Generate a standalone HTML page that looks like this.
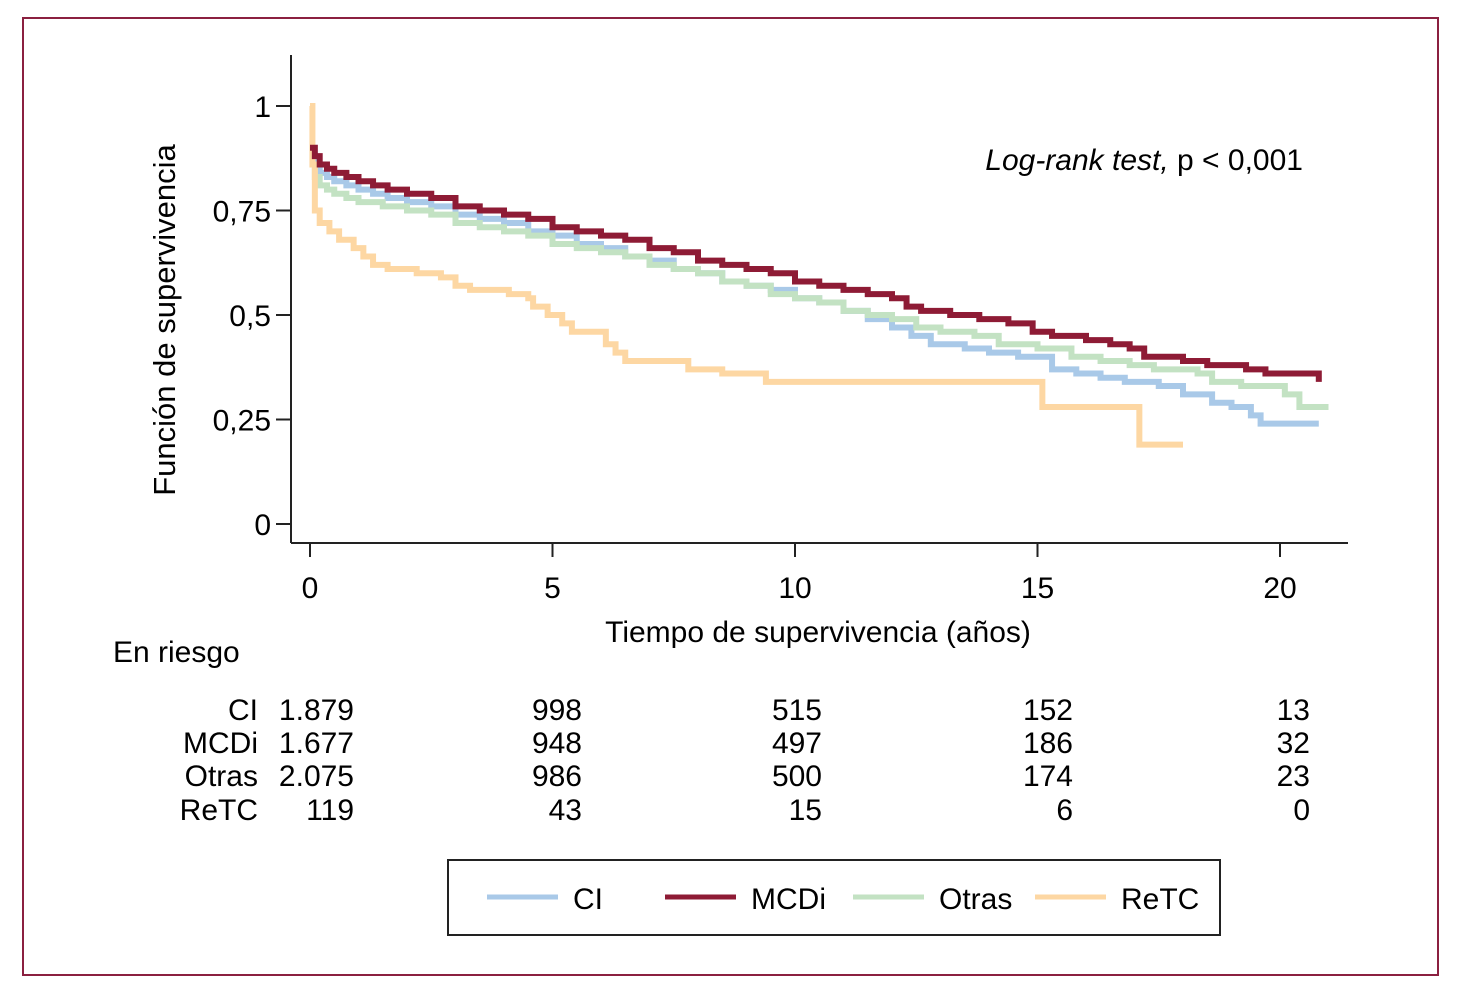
<!DOCTYPE html>
<html><head><meta charset="utf-8"><style>
body{margin:0;background:#fff}
svg{display:block;font-family:"Liberation Sans Narrow","Liberation Sans",sans-serif}
</style></head><body>
<svg id="c" width="1458" height="1000" viewBox="0 0 1458 1000">
<rect x="23" y="18" width="1415" height="957" fill="none" stroke="#8b2040" stroke-width="2"/>
<g id="axes"></g>
<g id="series"></g>
<text x="175" y="320" font-size="31" text-anchor="middle" transform="rotate(-90 175 320)">Función de supervivencia</text>
<text x="818" y="642" font-size="30" text-anchor="middle">Tiempo de supervivencia (años)</text>
<text x="1303" y="170" font-size="30" text-anchor="end"><tspan font-style="italic">Log-rank test,</tspan> p &lt; 0,001</text>
<text x="113" y="662" font-size="30">En riesgo</text>
<g id="risk"></g>
<rect x="448" y="860" width="772" height="75" fill="none" stroke="#222" stroke-width="2"/>
<g id="legend"></g>
</svg>
<script>
const yTicks=[0,0.25,0.5,0.75,1];
const yTickLabels=["0","0,25","0,5","0,75","1"];
const xTicks=[0,5,10,15,20];
const seriesNames=["CI","MCDi","Otras","ReTC"];
const seriesColors=["#a9c9e8","#8e1b35","#c3e2c3","#fdd7a3"];
const ciData=[[0,0.88],[0.1,0.86],[0.2,0.84],[0.35,0.83],[0.5,0.82],[0.75,0.81],[1,0.80],[1.3,0.79],[1.6,0.78],[2,0.77],[2.5,0.76],[3,0.74],[3.5,0.73],[4,0.72],[4.5,0.70],[5,0.69],[5.5,0.67],[6,0.66],[6.5,0.64],[7,0.63],[7.5,0.61],[8,0.60],[8.5,0.58],[9,0.57],[9.5,0.56],[10,0.54],[10.5,0.53],[11,0.51],[11.5,0.49],[12,0.47],[12.4,0.45],[12.8,0.43],[13.5,0.42],[14,0.41],[14.6,0.40],[15.3,0.37],[15.8,0.36],[16.3,0.35],[16.8,0.34],[17.5,0.33],[18,0.31],[18.6,0.29],[19,0.28],[19.4,0.26],[19.6,0.24],[20.8,0.24]];
const mcdiData=[[0,0.9],[0.1,0.88],[0.2,0.86],[0.35,0.85],[0.5,0.84],[0.75,0.83],[1,0.82],[1.3,0.81],[1.6,0.80],[2,0.79],[2.5,0.78],[3,0.76],[3.5,0.75],[4,0.74],[4.5,0.73],[5,0.71],[5.5,0.70],[6,0.69],[6.5,0.68],[7,0.66],[7.5,0.65],[8,0.63],[8.5,0.62],[9,0.61],[9.5,0.60],[10,0.58],[10.5,0.57],[11,0.56],[11.5,0.55],[12,0.54],[12.3,0.52],[12.6,0.51],[13.2,0.50],[13.8,0.49],[14.4,0.48],[14.9,0.46],[15.3,0.45],[16,0.44],[16.5,0.43],[16.9,0.42],[17.2,0.40],[18,0.39],[18.5,0.38],[19.3,0.37],[19.7,0.36],[20.8,0.36],[20.8,0.34]];
const otrasData=[[0,0.86],[0.1,0.83],[0.2,0.81],[0.35,0.80],[0.5,0.79],[0.75,0.78],[1,0.77],[1.5,0.76],[2,0.75],[2.5,0.74],[3,0.72],[3.5,0.71],[4,0.70],[4.5,0.69],[5,0.67],[5.5,0.66],[6,0.65],[6.5,0.64],[7,0.62],[7.5,0.61],[8,0.60],[8.5,0.58],[9,0.57],[9.5,0.55],[10,0.54],[10.5,0.53],[11,0.51],[11.5,0.50],[12,0.49],[12.5,0.47],[13,0.46],[13.7,0.45],[14.2,0.43],[15,0.42],[15.7,0.40],[16.3,0.39],[16.9,0.38],[17.4,0.37],[18.3,0.36],[18.6,0.34],[19.2,0.33],[20.1,0.31],[20.4,0.28],[21,0.28]];
const retcData=[[0,1.0],[0.05,0.86],[0.1,0.75],[0.2,0.72],[0.4,0.70],[0.6,0.68],[0.9,0.66],[1.1,0.64],[1.3,0.62],[1.6,0.61],[2.2,0.60],[2.7,0.59],[3,0.57],[3.3,0.56],[4.1,0.55],[4.5,0.54],[4.6,0.52],[4.9,0.50],[5.2,0.48],[5.4,0.46],[6.1,0.43],[6.3,0.41],[6.5,0.39],[7.8,0.37],[8.5,0.36],[9.4,0.34],[15.1,0.28],[17.1,0.19],[18,0.19]];
const riskRows=["CI","MCDi","Otras","ReTC"];
const riskValues=[["1.879","998","515","152","13"],["1.677","948","497","186","32"],["2.075","986","500","174","23"],["119","43","15","6","0"]];
const NS="http://www.w3.org/2000/svg";
const X=t=>310+t*48.5, Y=s=>524-s*418;
function mk(tag,attrs,parent,txt){const e=document.createElementNS(NS,tag);for(const k in attrs)e.setAttribute(k,attrs[k]);if(txt!==undefined)e.textContent=txt;parent.appendChild(e);return e;}
const ax=document.getElementById('axes');
let e=mk('line',{x1:291,y1:55,x2:291,y2:543,stroke:'#222','stroke-width':2},ax);


e=mk('line',{x1:291,y1:543,x2:1348,y2:543,stroke:'#222','stroke-width':2},ax);


yTicks.forEach((v,i)=>{
 mk('line',{x1:276,y1:Y(v),x2:291,y2:Y(v),stroke:'#222','stroke-width':2},ax);
 const t=mk('text',{x:271,y:Y(v)+11,'font-size':30,'text-anchor':'end'},ax,yTickLabels[i]);
 
 
});
xTicks.forEach(v=>{
 mk('line',{x1:X(v),y1:543,x2:X(v),y2:557,stroke:'#222','stroke-width':2},ax);
 const t=mk('text',{x:X(v),y:598,'font-size':30,'text-anchor':'middle'},ax,String(v));
 
 
});
const sg=document.getElementById('series');
const all=[ciData,otrasData,retcData,mcdiData], idx=[0,2,3,1];
all.forEach((d,k)=>{
 let p='M'+X(d[0][0])+','+Y(d[0][1]);
 for(let i=1;i<d.length;i++){p+=' H'+X(d[i][0])+' V'+Y(d[i][1]);}
 const el=mk('path',{d:p,fill:'none',stroke:seriesColors[idx[k]],'stroke-width':6},sg);
 
 
});
const rg=document.getElementById('risk');
const colX=[354,582,822,1073,1310], rowY=[720,753,786,820];
riskRows.forEach((r,i)=>{
 const l=mk('text',{x:258,y:rowY[i],'font-size':30,'text-anchor':'end'},rg,r);
 
 
 riskValues[i].forEach((v,j)=>{
  const t=mk('text',{x:colX[j],y:rowY[i],'font-size':30,'text-anchor':'end'},rg,v);
  
  
 });
});
const lg=document.getElementById('legend');
const lx=[487,665,853,1035];
seriesNames.forEach((n,i)=>{
 const ln=mk('line',{x1:lx[i],y1:897,x2:lx[i]+71,y2:897,stroke:seriesColors[i],'stroke-width':5},lg);
 
 
 const t=mk('text',{x:lx[i]+86,y:909,'font-size':30},lg,n);
 
 
});
</script>
</body></html>
